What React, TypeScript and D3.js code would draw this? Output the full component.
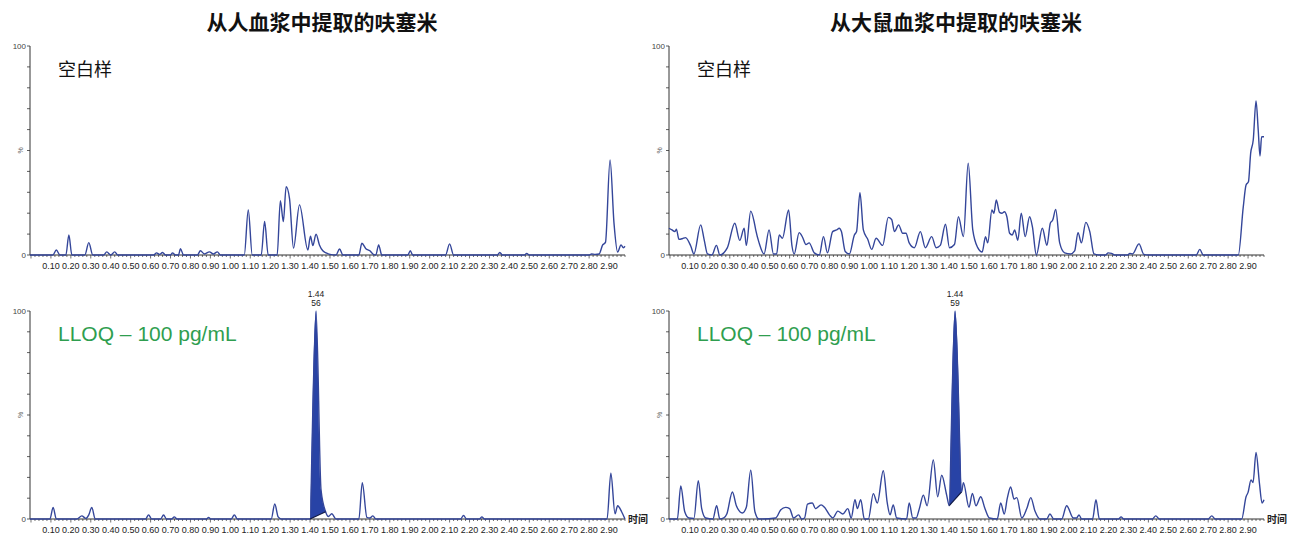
import { useMemo } from "react";
import * as d3 from "d3";

// chromatogram traces: [retention time (min), relative intensity %]
const humanBlank: [number, number][] = [
  [-0.005, 0], [0.11, 0], [0.127, 2.4], [0.145, 0], [0.175, 0], [0.19, 9.6], [0.205, 0],
  [0.27, 0], [0.29, 5.9], [0.31, 0], [0.365, 0], [0.38, 1.5], [0.4, 0], [0.42, 1.5], [0.435, 0],
  [0.615, 0], [0.63, 1], [0.645, 0.3], [0.66, 1.2], [0.675, 0], [0.7, 0], [0.71, 1], [0.725, 0],
  [0.74, 0], [0.75, 3], [0.765, 0], [0.835, 0], [0.85, 2], [0.87, 0.5], [0.895, 1.5], [0.915, 0.5],
  [0.935, 1.5], [0.95, 0], [1.07, 0], [1.09, 21.5], [1.11, 0], [1.155, 0], [1.172, 16], [1.19, 0],
  [1.235, 0], [1.251, 26], [1.266, 16], [1.28, 32.7], [1.297, 27], [1.317, 3.3], [1.347, 24],
  [1.389, 2.4], [1.402, 9], [1.414, 4.5], [1.43, 10], [1.447, 4.8], [1.464, 2], [1.481, 1],
  [1.5, 0.3], [1.53, 0], [1.548, 2.9], [1.565, 0], [1.645, 0], [1.66, 5.6], [1.68, 3], [1.7, 2],
  [1.715, 0.5], [1.73, 0], [1.744, 4.8], [1.76, 0], [1.89, 0], [1.903, 2], [1.915, 0], [2.08, 0],
  [2.1, 5.3], [2.12, 0], [2.34, 0], [2.352, 1.2], [2.365, 0], [2.475, 0], [2.487, 0.8], [2.5, 0],
  [2.8, 0], [2.812, 0.5], [2.83, 0.3], [2.85, 0.5], [2.868, 4.8], [2.882, 6], [2.905, 45.5],
  [2.925, 15], [2.943, 1.4], [2.96, 4.8], [2.972, 3.5], [2.98, 4.2],
];

const ratBlank: [number, number][] = [
  [-0.005, 12.8], [0.01, 12], [0.024, 11.2], [0.032, 12.3], [0.045, 7.5], [0.062, 7.8], [0.078, 8.3],
  [0.104, 4.3], [0.12, 0.5], [0.154, 14.4], [0.171, 7.5], [0.188, 0.5], [0.21, 0], [0.233, 4.6],
  [0.25, 0], [0.288, 3.5], [0.325, 15.2], [0.35, 7], [0.372, 12.8], [0.383, 4.6], [0.405, 21],
  [0.422, 16], [0.43, 12], [0.447, 5.8], [0.472, 0.5], [0.497, 12], [0.519, 0.5], [0.535, 0.5],
  [0.548, 9.6], [0.564, 8], [0.595, 21.5], [0.612, 4.3], [0.623, 0.5], [0.648, 10.7], [0.665, 8.5],
  [0.682, 5], [0.698, 5.8], [0.724, 1], [0.749, 0], [0.77, 8.8], [0.79, 1], [0.816, 11.2],
  [0.836, 12], [0.849, 12.8], [0.86, 11.2], [0.879, 1.7], [0.9, 0.5], [0.925, 9.6], [0.936, 11.2],
  [0.953, 29.8], [0.97, 12], [0.992, 7.5], [1.012, 2.7], [1.034, 8], [1.067, 4.6], [1.095, 18],
  [1.112, 17], [1.126, 11.2], [1.147, 14.4], [1.167, 10.4], [1.184, 10.4], [1.2, 5.8], [1.226, 3.5],
  [1.256, 11.2], [1.281, 3.5], [1.313, 8.8], [1.335, 3.5], [1.356, 4.6], [1.382, 14.7], [1.402, 3.5],
  [1.427, 5], [1.447, 18.3], [1.472, 8.8], [1.496, 43.9], [1.519, 12], [1.544, 3.5], [1.566, 1.4],
  [1.583, 8.8], [1.594, 5.8], [1.615, 21.5], [1.625, 20], [1.637, 26.3], [1.653, 20.4], [1.665, 20],
  [1.678, 20.7], [1.69, 18.3], [1.704, 10.4], [1.717, 9.6], [1.729, 12], [1.745, 7], [1.762, 20],
  [1.782, 8.8], [1.804, 18.3], [1.818, 13.6], [1.838, 0], [1.868, 12.8], [1.891, 4.6], [1.908, 15.2],
  [1.92, 16.7], [1.935, 21.8], [1.955, 5.8], [1.98, 1], [2.009, 0.5], [2.03, 2], [2.047, 10.7],
  [2.064, 5.8], [2.086, 15.6], [2.106, 11.2], [2.127, 0.5], [2.15, 0], [2.185, 0], [2.198, 1],
  [2.215, 0.8], [2.23, 0], [2.295, 0], [2.307, 0.8], [2.32, 0.5], [2.353, 5.3], [2.377, 0.3],
  [2.4, 0], [2.64, 0], [2.658, 2.7], [2.675, 0], [2.851, 0], [2.876, 23], [2.89, 33.5], [2.902, 35],
  [2.913, 48.6], [2.926, 55], [2.94, 73.7], [2.951, 59.8], [2.96, 47.4], [2.968, 56.6], [2.98, 56.6],
];

const humanLloq: [number, number][] = [
  [-0.005, 0], [0.095, 0], [0.111, 5.6], [0.127, 0], [0.23, 0], [0.255, 1.5], [0.275, 0.3],
  [0.29, 2], [0.305, 5.6], [0.322, 0], [0.575, 0], [0.59, 2], [0.605, 0], [0.65, 0], [0.665, 1.9],
  [0.68, 0], [0.705, 0], [0.719, 1], [0.733, 0], [0.88, 0], [0.891, 0.8], [0.902, 0], [1.005, 0],
  [1.02, 2], [1.035, 0], [1.205, 0], [1.223, 7.2], [1.24, 1], [1.255, 0], [1.4, 0], [1.43, 100],
  [1.455, 14], [1.478, 3.5], [1.492, 1.2], [1.509, 2.5], [1.53, 0], [1.645, 0], [1.662, 17.5],
  [1.685, 0.8], [1.7, 0.5], [1.715, 1.5], [1.73, 0], [2.155, 0], [2.17, 1.7], [2.185, 0],
  [2.25, 0], [2.262, 1], [2.275, 0], [2.89, 0], [2.909, 22], [2.93, 2.5], [2.943, 6.4],
  [2.963, 3.5], [2.98, 0],
];

const ratLloq: [number, number][] = [
  [-0.005, 0], [0.037, 0], [0.054, 15.9], [0.074, 3.5], [0.095, 0.5], [0.12, 0.3], [0.142, 18.4],
  [0.159, 5], [0.179, 0.5], [0.215, 0], [0.234, 6.4], [0.25, 0], [0.27, 0.5], [0.285, 2.4],
  [0.313, 13], [0.333, 6.4], [0.363, 2.9], [0.383, 5.6], [0.405, 23.5], [0.426, 3.5], [0.446, 0],
  [0.53, 0.5], [0.555, 4.3], [0.58, 5.6], [0.6, 5], [0.62, 0.5], [0.645, 2], [0.66, 0], [0.675, 0.5],
  [0.69, 7.2], [0.714, 7.7], [0.73, 5], [0.758, 6.8], [0.775, 5.6], [0.8, 2], [0.817, 0.5],
  [0.842, 3.8], [0.867, 2.4], [0.892, 5], [0.909, 0.5], [0.928, 9.3], [0.94, 5], [0.957, 9.3],
  [0.975, 0], [0.995, 0], [1.02, 12.2], [1.04, 7.7], [1.07, 23.2], [1.09, 7.7], [1.104, 2],
  [1.12, 6.8], [1.137, 0.5], [1.187, 0], [1.2, 7.7], [1.218, 0.5], [1.235, 0.5], [1.251, 5],
  [1.271, 11.5], [1.29, 6.4], [1.321, 28.4], [1.343, 10.7], [1.363, 21], [1.388, 11.5],
  [1.401, 6.4], [1.43, 100], [1.463, 13], [1.472, 17.5], [1.5, 5.6], [1.517, 12.3], [1.535, 6.4],
  [1.559, 10.7], [1.58, 5], [1.602, 0.5], [1.642, 0], [1.659, 7.7], [1.677, 2.4], [1.692, 9.9],
  [1.709, 15.4], [1.726, 9.6], [1.74, 10.3], [1.765, 0.5], [1.79, 5], [1.81, 10.3], [1.831, 3.8],
  [1.856, 0], [1.89, 0], [1.906, 2.4], [1.925, 0], [1.965, 0], [1.99, 6.4], [2.023, 0.5],
  [2.04, 0.5], [2.052, 2], [2.065, 0], [2.12, 0], [2.137, 9.3], [2.154, 0], [2.25, 0], [2.263, 1],
  [2.276, 0], [2.42, 0], [2.437, 1.5], [2.455, 0], [2.7, 0], [2.718, 1.5], [2.735, 0], [2.868, 0],
  [2.89, 10.7], [2.9, 12.8], [2.915, 18.8], [2.925, 17.5], [2.94, 32], [2.957, 17.3], [2.97, 7.7],
  [2.98, 9.3],
];

// integrated peak windows and their annotations
const humanPeak = { start: 1.4, end: 1.478, apex: 1.43, rt: "1.44", value: "56" };
const ratPeak = { start: 1.401, end: 1.463, apex: 1.43, rt: "1.44", value: "59" };

const xTickLabels = [
  "0.10", "0.20", "0.30", "0.40", "0.50", "0.60", "0.70", "0.80", "0.90", "1.00",
  "1.10", "1.20", "1.30", "1.40", "1.50", "1.60", "1.70", "1.80", "1.90", "2.00",
  "2.10", "2.20", "2.30", "2.40", "2.50", "2.60", "2.70", "2.80", "2.90",
];
const yTickLabels = ["0", "100"];
const titles = ["从人血浆中提取的呋塞米", "从大鼠血浆中提取的呋塞米"];
const timeLabel = "时间";

const LINE = "#34469a";
const FILL = "#2843a6";
const GREEN = "#2f9e4f";
const AXIS = "#333";

type Peak = typeof humanPeak;

function Panel(props: {
  left: number;
  right: number;
  top: number;
  bottom: number;
  data: [number, number][];
  label: string;
  labelColor: string;
  labelFont: string;
  labelSize: number;
  peak?: Peak;
  showTime?: boolean;
}) {
  const { left, right, top, bottom, data, peak } = props;
  const x = d3.scaleLinear().domain([-0.005, 2.98]).range([left, right]);
  const y = d3.scaleLinear().domain([0, 100]).range([bottom, top]);

  const line = d3
    .line<[number, number]>()
    .x((d) => x(d[0]))
    .y((d) => y(Math.max(0, d[1])))
    .curve(d3.curveMonotoneX);

  let fillPath: string | null = null;
  let baseLine: [number, number, number, number] | null = null;
  if (peak) {
    const pts = data.filter((d) => d[0] >= peak.start - 1e-9 && d[0] <= peak.end + 1e-9);
    const v0 = pts[0][1];
    const v1 = pts[pts.length - 1][1];
    const base = d3.scaleLinear().domain([peak.start, peak.end]).range([v0, v1]);
    fillPath = d3
      .area<[number, number]>()
      .x((d) => x(d[0]))
      .y0((d) => y(base(d[0])))
      .y1((d) => y(d[1]))
      .curve(d3.curveMonotoneX)(pts);
    baseLine = [x(peak.start), y(v0), x(peak.end), y(v1)];
  }

  const minor = d3.range(0, 2.981, 0.02);
  const yMinor = d3.range(0, 101, 10);

  return (
    <g>
      {/* y axis */}
      <line x1={left} x2={left} y1={y(0)} y2={y(100)} stroke={AXIS} strokeWidth={1} />
      {yMinor.map((v) => (
        <line key={v} x1={left - 3} x2={left} y1={y(v)} y2={y(v)} stroke={AXIS} strokeWidth={0.8} />
      ))}
      {yTickLabels.map((t) => (
        <text
          key={t}
          x={left - 4}
          y={y(+t) + 3}
          textAnchor="end"
          fontSize={8}
          fontFamily="Liberation Sans, Arial, sans-serif"
          fill="#444"
        >
          {t}
        </text>
      ))}
      <text
        transform={`translate(${left - 7},${y(50)}) rotate(-90)`}
        textAnchor="middle"
        fontSize={7}
        fontFamily="Liberation Sans, Arial, sans-serif"
        fill="#666"
      >
        %
      </text>

      {/* x axis */}
      <line x1={left} x2={right} y1={y(0)} y2={y(0)} stroke={AXIS} strokeWidth={1.2} />
      {minor.map((t, i) => (
        <line
          key={i}
          x1={x(t)}
          x2={x(t)}
          y1={y(0)}
          y2={y(0) + (i % 5 === 0 ? 3.5 : 2)}
          stroke={AXIS}
          strokeWidth={0.7}
        />
      ))}
      {xTickLabels.map((t) => (
        <text
          key={t}
          x={x(+t)}
          y={y(0) + 14}
          textAnchor="middle"
          fontSize={9}
          fontFamily="Liberation Sans, Arial, sans-serif"
          fill="#222"
        >
          {t}
        </text>
      ))}
      {props.showTime && (
        <text
          x={right + 3}
          y={y(0) + 4}
          fontSize={10}
          fontWeight="bold"
          fontFamily="Noto Sans CJK SC, sans-serif"
          fill="#222"
        >
          {timeLabel}
        </text>
      )}

      {/* integrated peak */}
      {fillPath && <path d={fillPath} fill={FILL} stroke="none" />}

      {/* trace */}
      <path d={line(data) ?? ""} fill="none" stroke={LINE} strokeWidth={1.4} strokeLinejoin="round" />

      {baseLine && (
        <line
          x1={baseLine[0]}
          y1={baseLine[1]}
          x2={baseLine[2]}
          y2={baseLine[3]}
          stroke="#111a44"
          strokeWidth={1.2}
        />
      )}
      {peak && (
        <g fontSize={8.5} fontFamily="Liberation Sans, Arial, sans-serif" fill="#222" textAnchor="middle">
          <text x={x(peak.apex)} y={y(100) - 14}>
            {peak.rt}
          </text>
          <text x={x(peak.apex)} y={y(100) - 5}>
            {peak.value}
          </text>
        </g>
      )}

      <text
        x={left + 28}
        y={y(100) + 30}
        fontSize={props.labelSize}
        fontFamily={props.labelFont}
        fill={props.labelColor}
      >
        {props.label}
      </text>
    </g>
  );
}

export default function App() {
  const panels = useMemo(
    () => [
      { left: 30, right: 625, top: 46, bottom: 255, data: humanBlank, label: "空白样", lloq: false },
      { left: 669, right: 1264, top: 46, bottom: 255, data: ratBlank, label: "空白样", lloq: false },
      { left: 30, right: 625, top: 311, bottom: 519, data: humanLloq, label: "LLOQ – 100 pg/mL", lloq: true, peak: humanPeak },
      { left: 669, right: 1264, top: 311, bottom: 519, data: ratLloq, label: "LLOQ – 100 pg/mL", lloq: true, peak: ratPeak },
    ],
    []
  );

  return (
    <svg
      width={1300}
      height={535}
      style={{ position: "absolute", left: 0, top: 0, background: "#fff" }}
    >
      <rect width={1300} height={535} fill="#fff" />
      <text
        x={322}
        y={30}
        textAnchor="middle"
        fontSize={21}
        fontWeight="bold"
        fontFamily="Noto Sans CJK SC, sans-serif"
        fill="#111"
      >
        {titles[0]}
      </text>
      <text
        x={956}
        y={30}
        textAnchor="middle"
        fontSize={21}
        fontWeight="bold"
        fontFamily="Noto Sans CJK SC, sans-serif"
        fill="#111"
      >
        {titles[1]}
      </text>
      {panels.map((p, i) => (
        <Panel
          key={i}
          left={p.left}
          right={p.right}
          top={p.top}
          bottom={p.bottom}
          data={p.data}
          label={p.label}
          labelColor={p.lloq ? GREEN : "#111"}
          labelFont={p.lloq ? "Liberation Sans, Arial, sans-serif" : "Noto Sans CJK SC, sans-serif"}
          labelSize={p.lloq ? 21 : 18}
          peak={p.peak}
          showTime={p.lloq}
        />
      ))}
    </svg>
  );
}
